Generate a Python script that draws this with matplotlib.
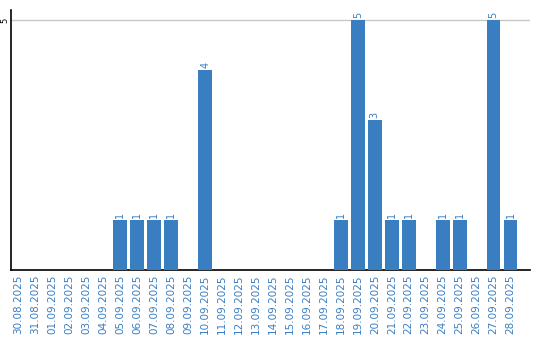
import matplotlib
matplotlib.use("Agg")
import matplotlib.pyplot as plt

dates = ["30.08.2025", "31.08.2025", "01.09.2025", "02.09.2025", "03.09.2025",
         "04.09.2025", "05.09.2025", "06.09.2025", "07.09.2025", "08.09.2025",
         "09.09.2025", "10.09.2025", "11.09.2025", "12.09.2025", "13.09.2025",
         "14.09.2025", "15.09.2025", "16.09.2025", "17.09.2025", "18.09.2025",
         "19.09.2025", "20.09.2025", "21.09.2025", "22.09.2025", "23.09.2025",
         "24.09.2025", "25.09.2025", "26.09.2025", "27.09.2025", "28.09.2025"]
values = [0, 0, 0, 0, 0, 0, 1, 1, 1, 1, 0, 4, 0, 0, 0, 0, 0, 0, 0, 1,
          5, 3, 1, 1, 0, 1, 1, 0, 5, 1]
yticks = [5]

bar_color = "#3a7ec2"
text_color = "#3a7ec2"

fig = plt.figure(figsize=(5.4, 3.4), dpi=100)
ax = fig.add_axes([11/540, 70/340, 519/540, 260/340])

x = list(range(len(dates)))
ax.bar(x, values, width=0.82, color=bar_color, zorder=3)
for xi, v in zip(x, values):
    if v > 0:
        ax.text(xi, v + 0.04, str(v), rotation=90, ha="center", va="bottom",
                fontsize=7, color=text_color)

ax.set_xlim(-0.45, 30.15)
ax.set_ylim(0, 5.2)
ax.set_xticks(x)
ax.set_xticklabels(dates, rotation=90, fontsize=7.5, color=text_color)
ax.set_yticks(yticks)
ax.set_yticklabels([str(t) for t in yticks], rotation=90, fontsize=6, va="center")
ax.tick_params(axis="both", length=0, pad=3)
ax.tick_params(axis="y", pad=1.5)
ax.yaxis.grid(True, color="#c8c8c8", linewidth=1, zorder=0)
for s in ["top", "right"]:
    ax.spines[s].set_visible(False)
ax.spines["left"].set_linewidth(1.2)
ax.spines["bottom"].set_linewidth(1.2)

fig.savefig("out.png", dpi=100)
